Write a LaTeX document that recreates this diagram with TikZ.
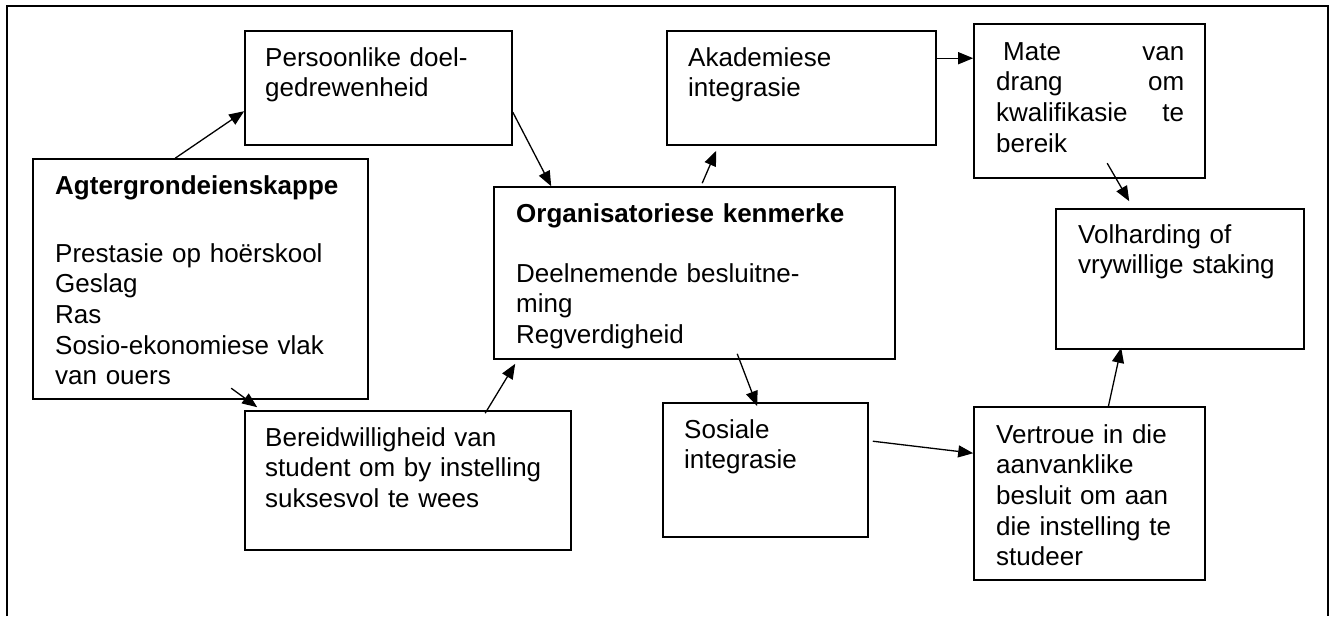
\documentclass[tikz,border=0pt]{standalone}
\usepackage{fontspec}
\setmainfont{Liberation Sans}
\usetikzlibrary{arrows.meta,calc}
\newcommand\tfont{\fontsize{26}{30.7}\selectfont}
\begin{document}
\begin{tikzpicture}[x=1pt,y=-1pt,
  box/.style={draw, line width=1.6pt, inner sep=0pt, minimum width=#1},
  txt/.style={anchor=north west, inner sep=0pt, align=left, text width=#1, font=\tfont},
  txt/.default=300pt,
  arr/.style={line width=1.3pt, -{Triangle[length=15pt,width=12pt]}},
  frame/.style={line width=2.2pt}]
\useasboundingbox (0,0) rectangle (1335,616);
\draw[frame] (7,616) -- (7,6) -- (1328,6) -- (1328,616);

% boxes
\node[box=267pt, minimum height=114pt] (pers) at (378.5,88) {};
\node[box=335pt, minimum height=240pt] (ag) at (200.5,279) {};
\node[box=326pt, minimum height=139pt] (ber) at (408,480.5) {};
\node[box=401pt, minimum height=172pt] (org) at (694.5,273) {};
\node[box=269pt, minimum height=114pt] (aka) at (801.5,88) {};
\node[box=205pt, minimum height=134pt] (sos) at (765.5,470) {};
\node[box=231pt, minimum height=154pt] (mate) at (1089.5,101) {};
\node[box=248pt, minimum height=140pt] (vol) at (1180,279) {};
\node[box=231pt, minimum height=173pt] (ver) at (1089.5,493.5) {};

% texts
\node[txt] (perst) at (265,44.5) {\strut Persoonlike doel-\\gedrewenheid};
\node[txt] (agt) at (55,172.5) {\strut\textbf{Agtergrondeienskappe}\\[37.3pt]
  Prestasie op ho\"erskool\\Geslag\\Ras\\Sosio-ekonomiese vlak\\van ouers};
\node[txt=360pt] (orgt) at (516,200.5) {\strut\textbf{Organisatoriese kenmerke}\\[29.3pt]
  Deelnemende besluitne-\\ming\\Regverdigheid};
\node[txt] (akat) at (688,44.5) {\strut Akademiese\\integrasie};
\node[txt] (sost) at (684,416.5) {\strut Sosiale\\integrasie};
\node[txt] (bert) at (265,424.5) {\strut Bereidwilligheid van\\student om by instelling\\suksesvol te wees};
\node[txt=188pt] (matet) at (996,38.5) {\strut\hspace*{7pt}Mate\hfill van\\drang\hfill om\\kwalifikasie\hfill te\\bereik};
\node[txt] (volt) at (1078,221.5) {\strut Volharding of\\vrywillige staking};
\node[txt] (vert) at (996,421.5) {\strut Vertroue in die\\aanvanklike\\besluit om aan\\die instelling te\\studeer};

% connectors
\draw[arr] ($(ag.north west)+(143,0)$) -- ($(pers.north west)+(0,81)$);
\draw[arr] ($(pers.north east)+(0,82)$) -- ($(org.north west)+(58,0)$);
\draw[arr] ($(org.north west)+(209,-3)$) -- ($(aka.south west)+(50,5)$);
\draw[arr] ($(aka.north east)+(0,28)$) -- ($(mate.north west)+(0,35)$);
\draw[arr] ($(mate.north west)+(134,140)$) -- ($(vol.north west)+(74,-7)$);
\draw[arr] ($(ag.north west)+(199,230)$) -- ($(ber.north west)+(13,-3)$);
\draw[arr] ($(ber.north west)+(241,3)$) -- ($(org.south west)+(22,4)$);
\draw[arr] ($(org.south west)+(244,-6)$) -- ($(sos.north west)+(95,4)$);
\draw[arr] ($(sos.north east)+(4,39)$) -- ($(ver.north west)+(0,47)$);
\draw[arr] ($(ver.north west)+(135,1)$) -- ($(vol.south west)+(66,-2)$);
\end{tikzpicture}
\end{document}
